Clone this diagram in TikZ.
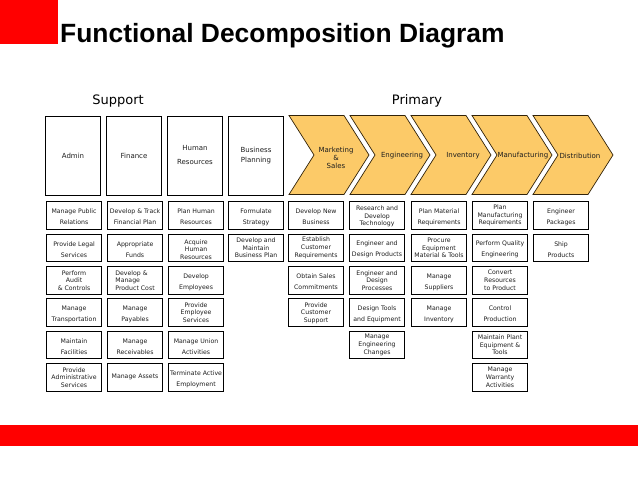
\documentclass[tikz,border=0pt]{standalone}
\usepackage{fontspec}
\newfontfamily\vf{DejaVu Sans}
\newfontfamily\tf{Liberation Sans}
\definecolor{fdred}{RGB}{255,0,0}
\definecolor{chevfill}{RGB}{252,202,104}
\definecolor{chevdraw}{RGB}{50,35,10}
\definecolor{txt}{RGB}{30,30,30}
\newcommand\fdb[5]{\node[sub,label={[#4]center:#5}] (#1) at (#2,#3) {};}
\begin{document}
\begin{tikzpicture}[x=1pt,y=-1pt,
  sub/.style={draw=black,line width=1.1pt,minimum width=55pt,minimum height=27.5pt,inner sep=0pt,anchor=north west},
  two/.style={align=center,text=txt,inner sep=0pt,font=\vf\fontsize{6.2}{11}\selectfont,yshift=-1.6pt},
  tight/.style={align=center,text=txt,inner sep=0pt,font=\vf\fontsize{6.2}{7.6}\selectfont},
  tightl/.style={tight,align=left},
  one/.style={align=center,text=txt,inner sep=0pt,font=\vf\fontsize{6.2}{7.6}\selectfont},
  head/.style={draw=black,line width=1pt,minimum width=55pt,minimum height=79pt,inner sep=0pt,anchor=north west},
  htext/.style={align=center,text=txt,inner sep=0pt,font=\vf\fontsize{7}{14}\selectfont},
  chev/.style={fill=chevfill,draw=chevdraw,line width=0.7pt,line join=miter},
  clab/.style={align=center,text=txt,inner sep=0pt,font=\vf\fontsize{7}{8}\selectfont},
  grp/.style={text=black,inner sep=0pt,font=\vf\fontsize{13}{15}\selectfont,anchor=base}
]
\useasboundingbox (0,0) rectangle (638,479);
% red decorations
\fill[fdred] (0,0) rectangle (58,44);
\fill[fdred] (0,425) rectangle (638,446);
% title
\node[anchor=base west,inner sep=0pt,font=\tf\bfseries\fontsize{26.4}{30}\selectfont] (title) at (60,42) {Functional Decomposition Diagram};
% group labels
\node[grp] (support) at (118,104) {Support};
\node[grp] (primary) at (417,104) {Primary};
% support headers
\node[head,label={[htext]center:Admin}] (hA) at (45,116) {};
\node[head,label={[htext]center:Finance}] (hF) at (106,116) {};
\node[head,label={[htext,yshift=1pt]center:Human\\Resources}] (hH) at (167,116) {};
\node[head,label={[htext,font=\vf\fontsize{7}{10}\selectfont]center:Business\\Planning}] (hB) at (228,116) {};
% chevrons
\foreach \x in {289,350,411,472,533}{
  \draw[chev] (\x,115.5) -- (\x+55,115.5) -- (\x+80,155) -- (\x+55,194.5) -- (\x,194.5) -- (\x+25,155) -- cycle;
}
\node[clab,yshift=-3pt] (cM) at (336,155) {Marketing\\\&\\Sales};
\node[clab] (cE) at (402,156) {Engineering};
\node[clab] (cI) at (463,156) {Inventory};
\node[clab] (cMf) at (523,156) {Manufacturing};
\node[clab] (cD) at (580,156) {Distribution};
% Admin
\fdb{a1}{46}{201}{two}{Manage Public\\Relations}
\fdb{a2}{46}{233.5}{two}{Provide Legal\\Services}
\fdb{a3}{46}{266}{tight}{Perform\\Audit\\\& Controls}
\fdb{a4}{46}{298}{two}{Manage\\Transportation}
\fdb{a5}{46}{330.5}{two}{Maintain\\Facilities}
\fdb{a6}{46}{363}{tight}{Provide\\Administrative\\Services}
% Finance
\fdb{f1}{107}{201}{two}{Develop \& Track\\Financial Plan}
\fdb{f2}{107}{233.5}{two}{Appropriate\\Funds}
\fdb{f3}{107}{266}{tightl}{Develop \&\\Manage\\Product Cost}
\fdb{f4}{107}{298}{two}{Manage\\Payables}
\fdb{f5}{107}{330.5}{two}{Manage\\Receivables}
\fdb{f6}{107}{363}{one}{Manage Assets}
% HR
\fdb{h1}{168}{201}{two}{Plan Human\\Resources}
\fdb{h2}{168}{233.5}{tight,yshift=-1.5pt}{Acquire\\Human\\Resources}
\fdb{h3}{168}{266}{two}{Develop\\Employees}
\fdb{h4}{168}{298}{tight}{Provide\\Employee\\Services}
\fdb{h5}{168}{330.5}{two}{Manage Union\\Activities}
\fdb{h6}{168}{363}{two}{Terminate Active\\Employment}
% Business planning
\fdb{b1}{228}{201}{two}{Formulate\\Strategy}
\fdb{b2}{228}{233.5}{tight}{Develop and\\Maintain\\Business Plan}
% Marketing
\fdb{m1}{288}{201}{two}{Develop New\\Business}
\fdb{m2}{288}{233.5}{tight}{Establish\\Customer\\Requirements}
\fdb{m3}{288}{266}{two}{Obtain Sales\\Commitments}
\fdb{m4}{288}{298}{tight,yshift=-0.8pt}{Provide\\Customer\\Support}
% Engineering
\fdb{e1}{349}{201}{tight,yshift=-1pt}{Research and\\Develop\\Technology}
\fdb{e2}{349}{233.5}{two}{Engineer and\\Design Products}
\fdb{e3}{349}{266}{tight}{Engineer and\\Design\\Processes}
\fdb{e4}{349}{298}{two}{Design Tools\\and Equipment}
\fdb{e5}{349}{330.5}{tight}{Manage\\Engineering\\Changes}
% Inventory
\fdb{i1}{411}{201}{two}{Plan Material\\Requirements}
\fdb{i2}{411}{233.5}{tight}{Procure\\Equipment\\Material \& Tools}
\fdb{i3}{411}{266}{two}{Manage\\Suppliers}
\fdb{i4}{411}{298}{two}{Manage\\Inventory}
% Manufacturing
\fdb{p1}{472}{201}{tight}{Plan\\Manufacturing\\Requirements}
\fdb{p2}{472}{233.5}{two}{Perform Quality\\Engineering}
\fdb{p3}{472}{266}{tight}{Convert\\Resources\\to Product}
\fdb{p4}{472}{298}{two}{Control\\Production}
\fdb{p5}{472}{330.5}{tight}{Maintain Plant\\Equipment \&\\Tools}
\fdb{p6}{472}{363}{tight}{Manage\\Warranty\\Activities}
% Distribution
\fdb{d1}{533}{201}{two}{Engineer\\Packages}
\fdb{d2}{533}{233.5}{two}{Ship\\Products}
\end{tikzpicture}
\end{document}
